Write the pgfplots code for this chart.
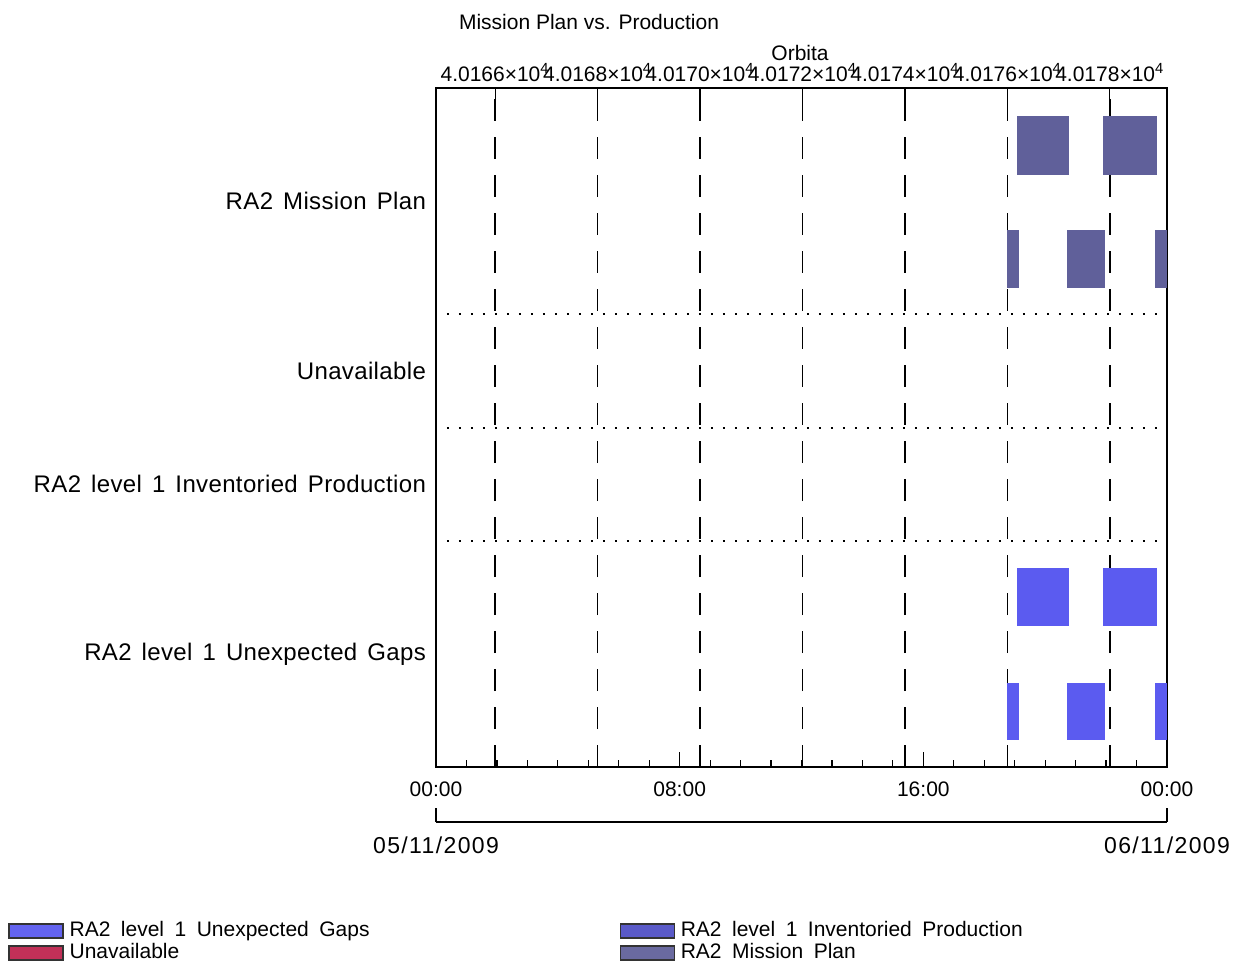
\documentclass[border=0pt]{standalone}
\usepackage{pgfplots}
\pgfplotsset{compat=1.18}
\usepackage{fontspec}
\setmainfont{Liberation Sans}

\definecolor{planfill}{HTML}{60609A}
\definecolor{gapfill}{HTML}{5B5BF0}
\definecolor{legGaps}{HTML}{6464F0}
\definecolor{legUnav}{HTML}{C23058}
\definecolor{legInv}{HTML}{5A5AC8}
\definecolor{legPlan}{HTML}{6A6AA0}

\newcommand{\wide}[1]{{\spaceskip=0.5em\relax #1}}
\newcommand{\ywide}[1]{{\spaceskip=0.42em\relax #1}}

\begin{document}
\begin{tikzpicture}[font=\fontsize{10.5}{12.6}\selectfont]
\path[use as bounding box] (0,0) rectangle (618pt,-482pt);

\node[anchor=west] at (226pt,-11pt) {Mission Plan vs. Production};

% orbit axis on top, its major grid gives the dashed lines
\begin{axis}[
  at={(218pt,-44pt)}, anchor=north west,
  scale only axis, width=365.5pt, height=339.5pt,
  xmin=40164.847, xmax=40179.11, ymin=0, ymax=6,
  scaled x ticks=false,
  axis x line*=top, axis y line=none,
  axis line style={line width=1pt},
  xtick={40166,40168,...,40178},
  xticklabels={4.0166×10\textsuperscript{4},4.0168×10\textsuperscript{4},4.0170×10\textsuperscript{4},4.0172×10\textsuperscript{4},4.0174×10\textsuperscript{4},4.0176×10\textsuperscript{4},4.0178×10\textsuperscript{4}},
  minor x tick num=3,
  tick align=inside, major tick length=6pt, minor tick length=3.5pt,
  tick style={black, line width=0.6pt},
  xmajorgrids,
  major grid style={black, line width=0.75pt, dash pattern=on 11pt off 8pt},
  xlabel={Orbita},
  xlabel style={at={(axis description cs:0.498,1)}, anchor=center, yshift=17.5pt},
  xticklabel style={inner sep=1pt, yshift=2pt},
]
\end{axis}

% main time axis
\begin{axis}[
  at={(218pt,-44pt)}, anchor=north west,
  scale only axis, width=365.5pt, height=339.5pt,
  xmin=0, xmax=24, ymin=0, ymax=6,
  axis line style={line width=1pt},
  xtick={0,8,16,24}, xticklabels={00:00,08:00,16:00,00:00},
  minor xtick={1,2,...,23},
  xtick pos=bottom, ytick pos=left,
  tick align=inside, major tick length=7.5pt, minor tick length=3.5pt,
  tick style={black, line width=0.6pt},
  ytick={1,2.5,3.5,5},
  yticklabels={\ywide{RA2 level 1 Unexpected Gaps},\ywide{RA2 level 1 Inventoried Production},Unavailable,\ywide{RA2 Mission Plan}},
  y tick style={draw=none},
  xticklabel style={yshift=-4pt},
  yticklabel style={xshift=-1.5pt, font=\fontsize{12}{14}\selectfont\addfontfeature{LetterSpace=1.5}},
  legend columns=2,
  legend cell align=left,
  legend style={at={(-0.5855,-0.2268)}, anchor=north west, draw=none, fill=none,
    inner sep=0pt, column sep=0pt, row sep=1.5pt,
    nodes={inner sep=0pt, text height=7.5pt, text depth=2pt}},
  legend image code/.code={\draw[#1, draw=black!80, line width=0.6pt] (0pt,-3.5pt) rectangle (27pt,3.5pt);},
]
% row separators
\addplot[black, line width=1pt, dash pattern=on 1pt off 5pt, forget plot] coordinates {(0.36,2) (23.77,2)};
\addplot[black, line width=1pt, dash pattern=on 1pt off 5pt, forget plot] coordinates {(0.36,3) (23.77,3)};
\addplot[black, line width=1pt, dash pattern=on 1pt off 5pt, forget plot] coordinates {(0.36,4) (23.77,4)};

% RA2 Mission Plan, upper row
\addplot[fill=planfill, draw=none, forget plot] coordinates {(19.07,5.23) (20.78,5.23) (20.78,5.75) (19.07,5.75)} -- cycle;
\addplot[fill=planfill, draw=none, forget plot] coordinates {(21.91,5.23) (23.66,5.23) (23.66,5.75) (21.91,5.75)} -- cycle;
% RA2 Mission Plan, lower row
\addplot[fill=planfill, draw=none, forget plot] coordinates {(18.76,4.23) (19.14,4.23) (19.14,4.745) (18.76,4.745)} -- cycle;
\addplot[fill=planfill, draw=none, forget plot] coordinates {(20.71,4.23) (21.97,4.23) (21.97,4.745) (20.71,4.745)} -- cycle;
\addplot[fill=planfill, draw=none, forget plot] coordinates {(23.61,4.23) (24,4.23) (24,4.745) (23.61,4.745)} -- cycle;

% RA2 level 1 Unexpected Gaps, upper row
\addplot[fill=gapfill, draw=none, forget plot] coordinates {(19.07,1.245) (20.78,1.245) (20.78,1.758) (19.07,1.758)} -- cycle;
\addplot[fill=gapfill, draw=none, forget plot] coordinates {(21.91,1.245) (23.66,1.245) (23.66,1.758) (21.91,1.758)} -- cycle;
% RA2 level 1 Unexpected Gaps, lower row
\addplot[fill=gapfill, draw=none, forget plot] coordinates {(18.76,0.24) (19.14,0.24) (19.14,0.742) (18.76,0.742)} -- cycle;
\addplot[fill=gapfill, draw=none, forget plot] coordinates {(20.71,0.24) (21.97,0.24) (21.97,0.742) (20.71,0.742)} -- cycle;
\addplot[fill=gapfill, draw=none, forget plot] coordinates {(23.61,0.24) (24,0.24) (24,0.742) (23.61,0.742)} -- cycle;

\addlegendimage{fill=legGaps}
\addlegendentry{\makebox[278pt][l]{\hspace{3pt}\wide{RA2 level 1 Unexpected Gaps}}}
\addlegendimage{fill=legInv}
\addlegendentry{\hspace{3pt}\wide{RA2 level 1 Inventoried Production}}
\addlegendimage{fill=legUnav}
\addlegendentry{\makebox[278pt][l]{\hspace{3pt}Unavailable}}
\addlegendimage{fill=legPlan}
\addlegendentry{\hspace{3pt}\wide{RA2 Mission Plan}}
\end{axis}

% date axis under the time axis
\begin{axis}[
  at={(218pt,-411pt)}, anchor=south west,
  scale only axis, width=365.5pt, height=1pt,
  xmin=0, xmax=24, ymin=0, ymax=1,
  axis x line*=bottom, axis y line=none,
  axis line style={line width=0.75pt},
  xtick={0,24}, xticklabels={05/11/2009,06/11/2009},
  tick align=inside, major tick length=7pt,
  tick style={black, line width=0.75pt},
  xticklabel style={yshift=-4pt, font=\fontsize{11.5}{13}\selectfont\addfontfeature{LetterSpace=6}},
]
\end{axis}
\end{tikzpicture}
\end{document}
